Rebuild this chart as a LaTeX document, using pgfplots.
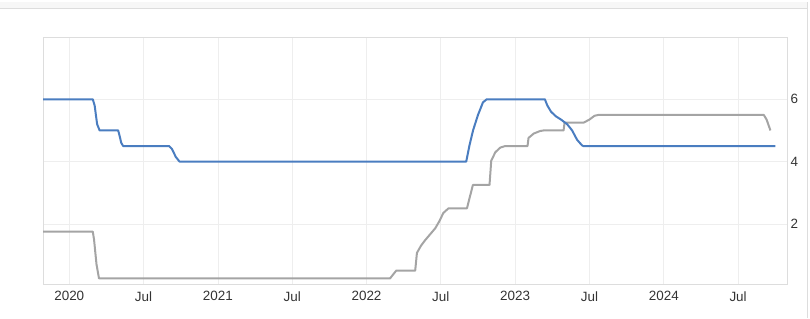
\documentclass[border=0pt]{standalone}
\usepackage{pgfplots}
\pgfplotsset{compat=1.18}
\usepackage{fontspec}
\setmainfont{Liberation Sans}
\definecolor{cblue}{HTML}{4A7DC0}
\definecolor{cgray}{HTML}{A4A4A4}
\definecolor{cgrid}{HTML}{EEEEEE}
\definecolor{cframe}{HTML}{DDDDDD}
\definecolor{ctext}{HTML}{333333}
\begin{document}
\begin{tikzpicture}[x=1bp,y=1bp]
\path[use as bounding box] (0,0) rectangle (810,318);
\fill[gray!6] (0,310) rectangle (808,316);
\draw[cframe,line width=0.8bp] (0,310) -- (808,310);
\draw[cframe,line width=0.8bp] (807,0) -- (807,316);
\begin{axis}[
  at={(43bp,34bp)}, anchor=south west,
  scale only axis, width=744bp, height=247bp,
  xmin=-2.12, xmax=57.95, ymin=0.07, ymax=8,
  axis line style={draw=cframe, line width=0.8bp},
  major tick length=0,
  xtick={0,6,12,18,24,30,36,42,48,54},
  xticklabels={2020,Jul,2021,Jul,2022,Jul,2023,Jul,2024,Jul},
  ytick={2,4,6,8}, yticklabels={2,4,6,},
  yticklabel pos=right,
  grid=major, major grid style={draw=cgrid, line width=0.7bp},
  tick label style={font=\fontsize{13.5}{16}\selectfont, text=ctext},
  xticklabel style={yshift=-4bp},
  yticklabel style={anchor=west, xshift=0bp},
  /pgf/number format/assume math mode=true,
]
\addplot[cgray, line width=2bp, line join=round] coordinates {
(-2.12,1.75)(1.9,1.75)(2.0,1.5)(2.2,0.7)(2.4,0.25)(25.9,0.25)(26.1,0.35)(26.4,0.5)
(27.93,0.5)(28.07,1.07)(28.4,1.3)(28.74,1.48)(29.55,1.86)(29.9,2.1)(30.2,2.35)(30.62,2.5)
(32.11,2.5)(32.3,2.8)(32.59,3.25)(33.93,3.25)(34.07,4.03)(34.4,4.3)(34.8,4.45)(35.2,4.5)
(37.0,4.5)(37.08,4.76)(37.5,4.9)(38.0,4.98)(38.3,5.0)(39.91,5.0)(39.99,5.25)(41.53,5.25)
(42.0,5.35)(42.4,5.47)(42.74,5.5)(56.07,5.5)(56.3,5.35)(56.61,5.0)
};
\addplot[cblue, line width=2bp, line join=round] coordinates {
(-2.12,6)(1.9,6)(2.05,5.8)(2.25,5.2)(2.45,5.0)(3.95,5.0)(4.05,4.85)(4.2,4.6)(4.35,4.5)
(8.05,4.5)(8.3,4.4)(8.6,4.15)(8.9,4.0)(32.05,4.0)(32.3,4.5)(32.6,5.0)(33.0,5.5)(33.4,5.9)(33.7,6.0)
(38.4,6.0)(38.6,5.8)(38.9,5.6)(39.3,5.45)(39.7,5.35)(40.2,5.2)(40.6,5.0)(41.0,4.7)(41.4,4.52)(41.5,4.5)(57.0,4.5)
};
\end{axis}
\end{tikzpicture}
\end{document}
